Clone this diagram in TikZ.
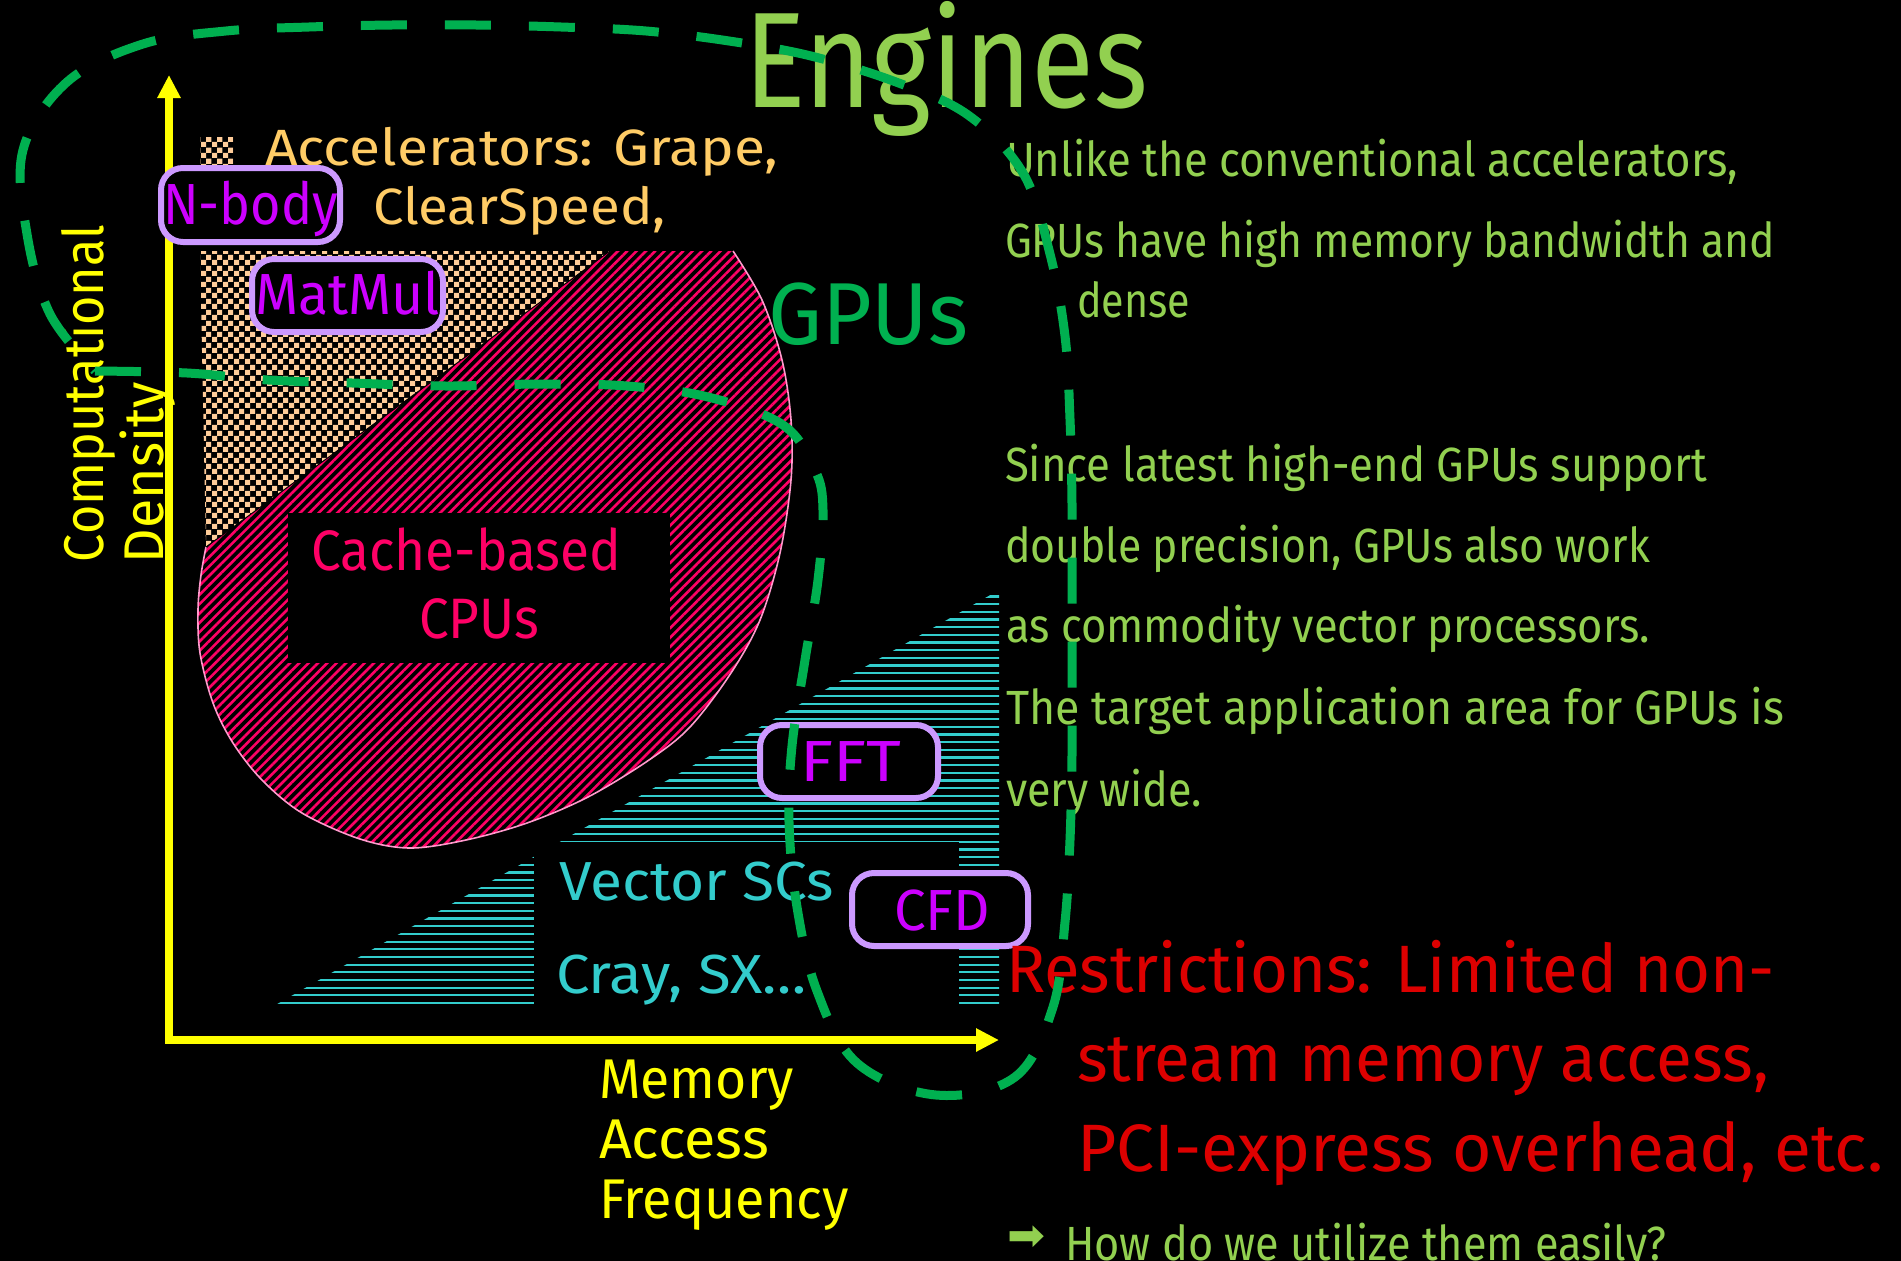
\documentclass[tikz,border=0pt]{standalone}
\usepackage{fontspec}
\setmainfont{Fira Sans}
\newfontfamily\symbolfont{DejaVu Sans}
\usetikzlibrary{arrows.meta,patterns,patterns.meta}

\definecolor{peach}{HTML}{FFCC99}
\definecolor{crimson}{HTML}{FF0066}
\definecolor{pinkline}{HTML}{FF99CC}
\definecolor{cyanline}{HTML}{33CCCC}
\definecolor{lilac}{HTML}{CC99FF}
\definecolor{violet}{HTML}{CC00FF}
\definecolor{apricot}{HTML}{FFCC66}
\definecolor{lightgreen}{HTML}{92D050}
\definecolor{darkgreen}{HTML}{00B050}
\definecolor{alertred}{HTML}{DD0000}
\definecolor{axisyellow}{HTML}{FFFF00}

% checkerboard with 5.3pt squares
\pgfdeclarepatternformonly{bigchecker}{\pgfqpoint{0pt}{0pt}}{\pgfqpoint{10.6pt}{10.6pt}}{\pgfqpoint{10.6pt}{10.6pt}}{%
  \pgfpathrectangle{\pgfqpoint{0pt}{0pt}}{\pgfqpoint{5.3pt}{5.3pt}}%
  \pgfpathrectangle{\pgfqpoint{5.3pt}{5.3pt}}{\pgfqpoint{5.3pt}{5.3pt}}%
  \pgfusepath{fill}}

% set a text to a given width, keeping its height
\newcommand\fitw[2]{\resizebox{#1pt}{\height}{#2}}
\newcommand\fs[1]{\fontsize{#1}{#1}\selectfont}

\begin{document}
\begin{tikzpicture}[x=1pt,y=-1pt,
  every node/.style={inner sep=0pt,outer sep=0pt},
  tagbox/.style={draw=lilac,fill=black,line width=6pt,rounded corners=22pt},
  taglabel/.style={anchor=base,text=violet,font=\fs{58}},
  para/.style={anchor=base west,text=lightgreen,font=\fs{48}},
  alert/.style={anchor=base west,text=alertred,font=\fs{67}},
  axislabel/.style={anchor=base west,text=axisyellow,font=\fs{56}},
  accel/.style={anchor=base west,text=apricot,font=\fs{51}},
  vectxt/.style={anchor=base west,text=cyanline,font=\fs{55}},
  cachetxt/.style={anchor=base west,text=crimson,font=\fs{57}},
  loop/.style={darkgreen,line width=9pt,dash pattern=on 46pt off 38pt}]

\fill[black] (0,0) rectangle (1901,1261);
\useasboundingbox (0,0) rectangle (1901,1261);

% accelerator region (checkerboard) and its legend swatch
\fill[black] (200,137) rectangle (233,175);
\fill[pattern=bigchecker,pattern color=peach] (200,137) rectangle (233,175);
\fill[black] (200,251) -- (615,251) -- (206,549) -- cycle;
\fill[pattern=bigchecker,pattern color=peach] (200,251) -- (615,251) -- (206,549) -- cycle;

% cache-based CPU region (hatched), outlined along its curved side
\path[fill=black,postaction={pattern={Lines[angle=45,distance=6.6pt,line width=2.6pt]},pattern color=crimson}]
  (610,251) -- (733,251) -- plot[smooth,tension=0.55] coordinates {(733,251) (762,300) (782,360) (791,420) (791,480) (780,553) (760,620) (731,673) (690,727) (649,760) (588,797) (527,823) (466,840) (410,848) (360,839) (302,813) (262,780) (233,743) (213,703) (200,653) (198,610) (201,575) (206,547)} -- cycle;
\draw[pinkline,line width=1.6pt] plot[smooth,tension=0.55] coordinates {(733,251) (762,300) (782,360) (791,420) (791,480) (780,553) (760,620) (731,673) (690,727) (649,760) (588,797) (527,823) (466,840) (410,848) (360,839) (302,813) (262,780) (233,743) (213,703) (200,653) (198,610) (201,575) (206,547)};
\draw[black,line width=1pt] (206,547) -- (610,251);

\fill[black] (288,513) rectangle (670,663);
\node[cachetxt] (cachea) at (311,570) {\fitw{310}{Cache-based}};
\node[cachetxt] (cacheb) at (419,638) {\fitw{120}{CPUs}};

% vector supercomputer region (horizontal stripes)
\begin{scope}
  \clip (272,1007) -- (999,590) -- (999,1007) -- cycle;
  \foreach \k in {0,...,55}
    \draw[cyanline,line width=2.3pt] (260,{1003-7.67*\k}) -- (1005,{1003-7.67*\k});
\end{scope}
\fill[black] (534,842) rectangle (959,1008);
\node[vectxt] (veca) at (559,900) {\fitw{275}{Vector SCs}};
\node[vectxt] (vecb) at (556,993) {\fitw{251}{Cray, SX…}};

% axes
\coordinate (origin) at (169,1040);
\coordinate (ytip) at (169,75);
\coordinate (xtip) at (999,1040);
\draw[axisyellow,line width=8pt,{Triangle[width=22pt,length=23pt]}-{Triangle[width=22pt,length=23pt]}] (ytip) -- (origin) -- (xtip);

\node[axislabel,rotate=90] (ylabA) at (103,562) {\fitw{337}{Computational}};
\node[axislabel,rotate=90] (ylabB) at (163,563) {\fitw{181}{Density}};
\node[axislabel] (xlabA) at (599,1098) {\fitw{195}{Memory}};
\node[axislabel] (xlabB) at (599,1158) {\fitw{170}{Access}};
\node[axislabel] (xlabC) at (599,1218) {\fitw{250}{Frequency}};

% accelerators legend
\node[accel] (accA) at (265,165) {\fitw{513}{Accelerators: Grape,}};
\node[accel] (accB) at (373,224) {\fitw{293}{ClearSpeed,}};

% application tags
\node[tagbox,minimum width=179pt,minimum height=74pt] (nbodybox) at (250.5,205) {};
\node[taglabel] (nbody) at (250.5,224) {\fitw{175}{N-body}};
\node[tagbox,minimum width=191pt,minimum height=73pt] (matmulbox) at (347.5,295.5) {};
\node[taglabel] (matmul) at (347.5,314) {\fitw{185}{MatMul}};
\node[tagbox,minimum width=178pt,minimum height=73pt] (fftbox) at (849,761.5) {};
\node[taglabel] (fft) at (850.5,781) {\fitw{101}{FFT}};
\node[tagbox,minimum width=176pt,minimum height=73pt] (cfdbox) at (940,909.5) {};
\node[taglabel] (cfd) at (942,930) {\fitw{96}{CFD}};

% titles
\node[anchor=base west,text=lightgreen,font=\fs{136}] (title) at (744,107) {\fitw{404}{Engines}};
\node[anchor=base west,text=darkgreen,font=\fs{88}] (gpus) at (768,344) {\fitw{200}{GPUs}};

% explanation
\node[para] (p1) at (1006,176) {\fitw{732}{Unlike the conventional accelerators,}};
\node[para] (p2) at (1005,257) {\fitw{770}{GPUs have high memory bandwidth and}};
\node[para] (p3) at (1077,317) {\fitw{113}{dense}};
\node[para] (p4) at (1005,481) {\fitw{702}{Since latest high-end GPUs support}};
\node[para] (p5) at (1005,562) {\fitw{645}{double precision, GPUs also work}};
\node[para] (p6) at (1006,642) {\fitw{644}{as commodity vector processors.}};
\node[para] (p7) at (1006,724) {\fitw{778}{The target application area for GPUs is}};
\node[para] (p8) at (1006,806) {\fitw{196}{very wide.}};

\node[alert] (r1) at (1006,992) {\fitw{769}{Restrictions: Limited non-}};
\node[alert] (r2) at (1077,1081) {\fitw{692}{stream memory access,}};
\node[alert] (r3) at (1077,1171) {\fitw{807}{PCI-express overhead, etc.}};

\node[anchor=west,text=lightgreen,font=\fs{44}] (qarrow) at (1007,1238) {\fitw{38}{\symbolfont ➡}};
\node[para] (question) at (1065,1260) {\fitw{601}{How do we utilize them easily?}};

% GPU domain boundary
\draw[loop] plot[smooth,tension=0.6] coordinates {(95,371) (187,373) (268,380) (352,383) (446,386) (540,384) (627,386) (708,397) (783,425) (815,470) (823,510) (818,580) (805,660) (792,746) (789,822) (797,907) (817,991) (857,1063) (936,1095) (1015,1077) (1053,1007) (1065,922) (1070,840) (1072,755) (1072,672) (1072,589) (1072,504) (1070,419) (1065,336) (1050,254) (1023,173) (968,115) (896,82) (811,56) (729,41) (646,31) (561,27) (476,25) (392,25) (309,27) (226,31) (143,44) (67,82) (23,150) (27,234) (50,314) (95,371)};
\end{tikzpicture}
\end{document}
